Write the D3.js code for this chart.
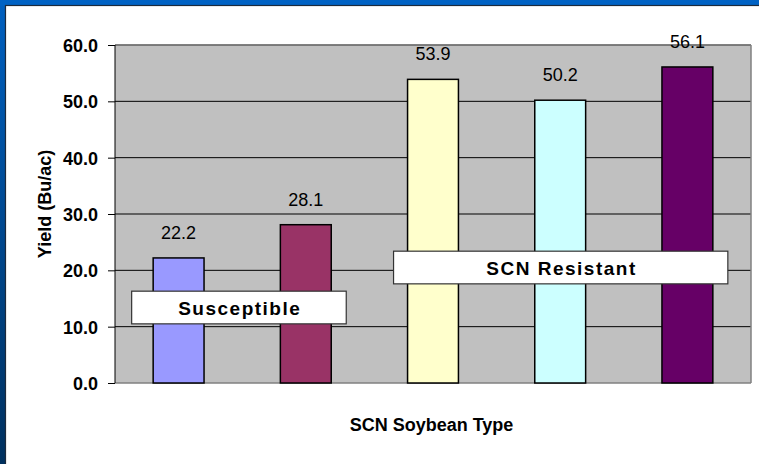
<!DOCTYPE html>
<html><head><meta charset="utf-8">
<script src="https://cdn.jsdelivr.net/npm/d3@7/dist/d3.min.js"></script>
<style>html,body{margin:0;padding:0;overflow:hidden;background:#fff}svg{display:block}text{font-family:"Liberation Sans",Arial,sans-serif}</style>
</head><body><svg id="c" width="759" height="464"></svg>
<script>
const categories = ["Susceptible 1","Susceptible 2","Resistant 1","Resistant 2","Resistant 3"];
const yields = [22.2, 28.1, 53.9, 50.2, 56.1];
const barColors = ["#9999ff","#993366","#ffffcc","#ccffff","#660066"];
const yTicks = [0, 10, 20, 30, 40, 50, 60];
const yAxisTitle = "Yield (Bu/ac)";
const xAxisTitle = "SCN Soybean Type";
const groupNames = ["Susceptible", "SCN Resistant"];

const svg = d3.select("#c");
const defs = svg.append("defs");
const g1 = defs.append("linearGradient").attr("id","lb").attr("x1",0).attr("y1",0).attr("x2",0).attr("y2",1);
g1.append("stop").attr("offset","0").attr("stop-color","#0060c0");
g1.append("stop").attr("offset","1").attr("stop-color","#00305e");

// background frame
svg.append("rect").attr("x",0).attr("y",0).attr("width",759).attr("height",464).attr("fill","url(#lb)");
svg.append("rect").attr("x",0).attr("y",0).attr("width",759).attr("height",6).attr("fill","#0062c4");
svg.append("rect").attr("x",5.5).attr("y",5.5).attr("width",900).attr("height",600).attr("fill","#fff").attr("stroke","#1c2a3c").attr("stroke-width",1.2);

const L = 115, R = 751, T = 45, B = 383;
const x = d3.scaleBand().domain(categories).range([L, R]).paddingInner(0.6).paddingOuter(0.3);
const y = d3.scaleLinear().domain([0, 60]).range([B, T]);

// plot area
svg.append("rect").attr("x",L).attr("y",T).attr("width",R-L).attr("height",B-T).attr("fill","#c0c0c0");

// ticks via axis
const yAxis = d3.axisLeft(y).tickValues(yTicks).tickFormat(d3.format(".1f")).tickSize(7).tickPadding(10);
const ya = svg.append("g").attr("transform",`translate(${L},0)`).call(yAxis);
ya.select(".domain").remove();
ya.selectAll(".tick line").attr("stroke","#000");
ya.selectAll(".tick text").attr("font-size",18).attr("font-weight","bold").attr("fill","#000")
  .style("font-family","'Liberation Sans',Arial,sans-serif").attr("dy","0.36em");
// gridlines
svg.append("g").selectAll("line").data(yTicks.filter(d=>d>0)).join("line")
  .attr("x1",L).attr("x2",R).attr("y1",d=>y(d)).attr("y2",d=>y(d)).attr("stroke","#000").attr("stroke-width",1);

// plot border
svg.append("line").attr("x1",L).attr("x2",R).attr("y1",T).attr("y2",T).attr("stroke","#808080").attr("stroke-width",1.5);
svg.append("line").attr("x1",R).attr("x2",R).attr("y1",T).attr("y2",B).attr("stroke","#808080").attr("stroke-width",1.5);
svg.append("line").attr("x1",L).attr("x2",R).attr("y1",B).attr("y2",B).attr("stroke","#808080").attr("stroke-width",1.5);
svg.append("line").attr("x1",L).attr("x2",L).attr("y1",T).attr("y2",B).attr("stroke","#000").attr("stroke-width",1);

// bars
svg.append("g").selectAll("rect").data(yields).join("rect")
  .attr("x",(d,i)=>x(categories[i])).attr("width",x.bandwidth())
  .attr("y",d=>y(d)).attr("height",d=>B-y(d))
  .attr("fill",(d,i)=>barColors[i]).attr("stroke","#000").attr("stroke-width",1.5);

// value labels
svg.append("g").selectAll("text").data(yields).join("text")
  .attr("x",(d,i)=>x(categories[i])+x.bandwidth()/2).attr("y",d=>y(d)-19)
  .attr("text-anchor","middle").attr("font-size",18).attr("fill","#000")
  .text(d=>d3.format(".1f")(d));

// group label boxes (anchored in data space)
function groupBox(text, c0, c1, v0, v1, padL, padR){
  const x0 = x(categories[c0]) - padL, x1 = x(categories[c1]) + x.bandwidth() + padR;
  const yt = y(v1), yb = y(v0);
  svg.append("rect").attr("x",x0).attr("y",yt).attr("width",x1-x0).attr("height",yb-yt)
    .attr("fill","#fff").attr("stroke","#333").attr("stroke-width",1.2);
  svg.append("text").attr("x",(x0+x1)/2+0.8).attr("y",(yt+yb)/2+7.5).attr("text-anchor","middle")
    .attr("font-size",19).attr("font-weight","bold").attr("fill","#000").attr("letter-spacing","1.5").text(text);
}
groupBox(groupNames[0], 0, 1, 10.5, 16.3, 21.5, 15);
groupBox(groupNames[1], 2, 4, 17.6, 23.4, 14, 15);

// axis titles
svg.append("text").attr("x",431.5).attr("y",431).attr("text-anchor","middle")
  .attr("font-size",18).attr("font-weight","bold").attr("fill","#000").text(xAxisTitle);
svg.append("text").attr("transform","translate(51,204) rotate(-90)").attr("text-anchor","middle")
  .attr("font-size",18).attr("font-weight","bold").attr("fill","#000").text(yAxisTitle);
</script></body></html>
